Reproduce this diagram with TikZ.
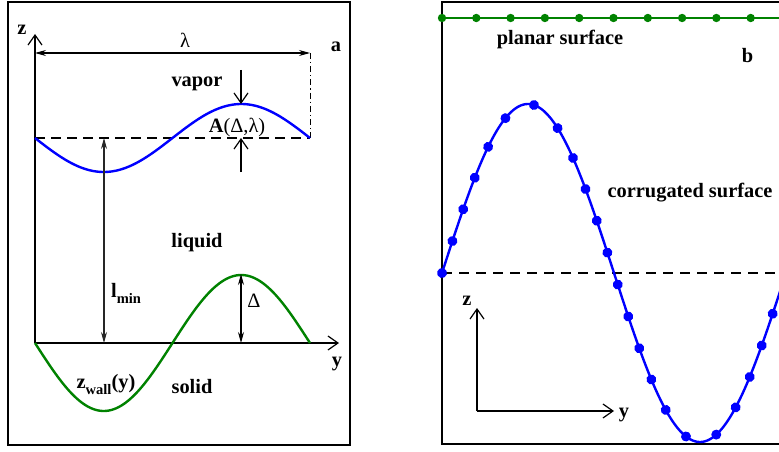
\documentclass[tikz,border=0pt]{standalone}
\usepackage{fontspec}
\setmainfont{Liberation Serif}
\usetikzlibrary{arrows.meta,decorations.markings}
\definecolor{gcol}{RGB}{0,130,0}
\definecolor{bcol}{RGB}{0,0,255}
\newcommand{\subtxt}[1]{\raisebox{-6pt}{\fontsize{14.5}{15}\selectfont #1}}
\tikzset{
  frame/.style={line width=1.8pt},
  axis/.style={line width=1.2pt},
  openarrow/.style={axis,-{Straight Barb[length=10pt,width=14pt,line width=1.2pt]}},
  dimarrow/.style={line width=1.1pt,{Stealth[length=11pt,width=6pt]}-{Stealth[length=11pt,width=6pt]}},
  lbl/.style={anchor=base,inner sep=0pt},
  curve/.style={line width=2.4pt}
}
\begin{document}
\begin{tikzpicture}[x=1pt,y=-1pt,font=\fontsize{20.4}{24}\selectfont\bfseries]
\clip (0,0) rectangle (779,452);
\fill[white] (0,0) rectangle (779,452);
% ---------------- panel a ----------------
\draw[frame] (8,2) rectangle (350,445);
\coordinate (O) at (35,343);
\coordinate (ztop) at (35,34);
\coordinate (yend) at (339,343);
\coordinate (lamL) at (35,53);
\coordinate (lamR) at (310,53);
\coordinate (dL) at (35,138);
\coordinate (dR) at (310,138);
\coordinate (peak) at (241,104);
\coordinate (ptop) at (241,70);
\coordinate (pbot) at (241,172);
\coordinate (lmT) at (104,138);
\coordinate (lmB) at (104,343);
\coordinate (dT) at (241,274);
\coordinate (dB) at (241,343);
\draw[openarrow] (O) -- (ztop);
\draw[openarrow] (O) -- (yend);
\draw[dimarrow] (lamL) -- (lamR);
\draw[line width=1pt,dash pattern=on 6pt off 3pt on 1.2pt off 3pt] (lamR) -- (dR);
\draw[line width=1.2pt,dash pattern=on 10pt off 6pt] (dL) -- (dR);
\draw[bcol,curve] plot[domain=35:310,samples=120] (\x,{138+34*sin((\x-35)/275*360)});
\draw[gcol,curve] plot[domain=35:310,samples=120] (\x,{343+68*sin((\x-35)/275*360)});
\draw[openarrow] (ptop) -- (peak);
\draw[openarrow] (pbot) -- (dR -| pbot);
\draw[dimarrow,black!85] (lmT) -- (lmB);
\draw[dimarrow] (dT) -- (dB);
\node[lbl] (zlab) at (22,35) {z};
\node[lbl] (lamlab) at (185,48) {\mdseries λ};
\node[lbl] (alab) at (336,52) {a};
\node[lbl] (vapor) at (197,87) {vapor};
\node[lbl] (Alab) at (237,132) {A{\mdseries(Δ,λ)}};
\node[lbl] (liquid) at (197,247) {liquid};
\node[lbl] (lmin) at (126,297) {l\subtxt{min}};
\node[lbl] (Dlab) at (254,307) {\mdseries Δ};
\node[lbl] (ylab) at (337,366) {y};
\node[lbl] (zwall) at (106,388) {z\subtxt{wall}(y)};
\node[lbl] (solid) at (192,393) {solid};
% ---------------- panel b ----------------
\draw[frame] (442,2) rectangle (800,444);
\coordinate (gL) at (442,18);
\coordinate (gR) at (790,18);
\draw[gcol,curve] (gL) -- (gR);
\foreach \k in {0,...,9}{
  \fill[gcol] ({442+34.3*\k},18) circle (4.2pt);
}
\draw[line width=1.2pt,dash pattern=on 10pt off 7pt] (442,273) -- (790,273);
\draw[bcol,curve,postaction={decorate},
  decoration={markings,mark=between positions 0 and 1 step 33.6pt with {\fill[bcol] (0,0) circle (5pt);}}]
  plot[domain=442:782,samples=300] (\x,{273-169*sin((\x-442)/344*360)});
\coordinate (iO) at (477,411);
\coordinate (iz) at (477,308);
\coordinate (iy) at (614,411);
\draw[openarrow] (iO) -- (iz);
\draw[openarrow] (iO) -- (iy);
\node[lbl] (izlab) at (467,305) {z};
\node[lbl] (iylab) at (624,417) {y};
\node[lbl] (planar) at (560,45) {planar surface};
\node[lbl] (blab) at (747.5,63) {b};
\node[lbl] (corr) at (690,197) {corrugated surface};
\end{tikzpicture}
\end{document}
